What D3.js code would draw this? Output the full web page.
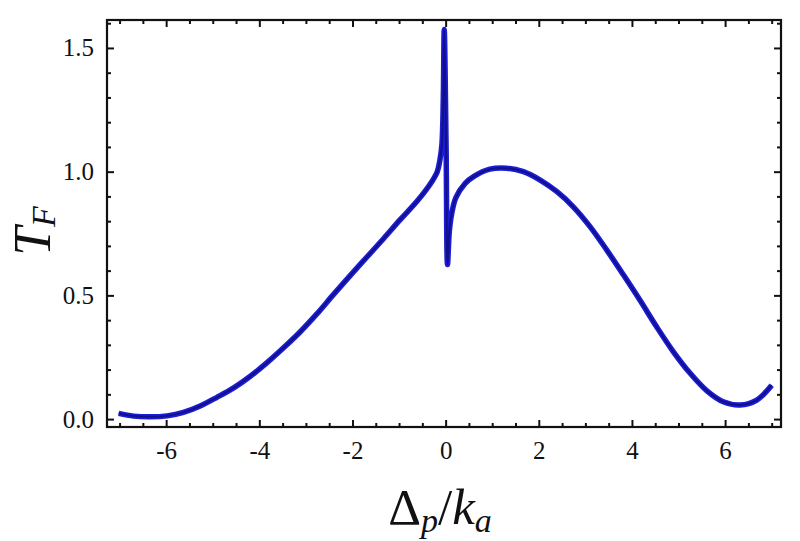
<!DOCTYPE html>
<html>
<head>
<meta charset="utf-8">
<script src="https://cdn.jsdelivr.net/npm/d3@7"></script>
<style>
  html, body { margin: 0; padding: 0; background: #fff; }
  svg { display: block; }
</style>
</head>
<body>
<svg id="chart" width="800" height="541"></svg>
<script>
// ---- data ----
const detuning = [
  -7.02, -6.70, -6.34, -5.98, -5.63, -5.27, -4.91, -4.55, -4.20, -3.84,
  -3.48, -3.12, -2.76, -2.41, -2.05, -1.69, -1.33, -0.98, -0.62, -0.33,
  -0.18, -0.12, -0.08, -0.05, -0.03, 0.01, 0.04, 0.08, 0.13, 0.22,
  0.42, 0.60, 0.95, 1.31, 1.67, 2.03, 2.39, 2.74, 3.10, 3.46,
  3.82, 4.17, 4.53, 4.89, 5.25, 5.61, 5.96, 6.32, 6.68, 7.00
];
const transmission = [
  0.023, 0.012, 0.009, 0.013, 0.027, 0.053, 0.088, 0.126, 0.172, 0.227,
  0.288, 0.353, 0.426, 0.503, 0.580, 0.655, 0.730, 0.805, 0.879, 0.950,
  1.000, 1.050, 1.110, 1.300, 1.575, 1.100, 0.625, 0.760, 0.830, 0.895,
  0.953, 0.980, 1.010, 1.014, 1.000, 0.966, 0.919, 0.858, 0.778, 0.683,
  0.582, 0.481, 0.373, 0.272, 0.185, 0.114, 0.070, 0.057, 0.077, 0.137
];
const xMajorTicks = [-6, -4, -2, 0, 2, 4, 6];
const yMajorTicks = [0.0, 0.5, 1.0, 1.5];
const xDomain = [-7.27, 7.2];
const yDomain = [-0.032, 1.613];

// ---- layout ----
const serif = '"Liberation Serif", "DejaVu Serif", serif';
const svg = d3.select("#chart");
const margin = { left: 107, top: 20, right: 19, bottom: 114 };
const W = 800 - margin.left - margin.right;
const H = 541 - margin.top - margin.bottom;
const g = svg.append("g").attr("transform", `translate(${margin.left},${margin.top})`);

const x = d3.scaleLinear().domain(xDomain).range([0, W]);
const y = d3.scaleLinear().domain(yDomain).range([H, 0]);

const xMinor = d3.range(-7, 7.01, 0.5).filter(v => !xMajorTicks.includes(v));
const yMinor = d3.range(0, 1.61, 0.1).map(v => +v.toFixed(1)).filter(v => !yMajorTicks.includes(v));

function styleAxis(sel) {
  sel.attr("font-family", serif).attr("font-size", 25);
  sel.select(".domain").remove();
  sel.selectAll(".tick line").attr("stroke", "#111").attr("stroke-width", 2);
  sel.selectAll(".tick text").attr("fill", "#111").attr("font-family", serif).attr("font-size", 25);
}

// major + minor ticks, inward, on all four sides
g.append("g").attr("transform", `translate(0,${H})`)
  .call(d3.axisBottom(x).tickValues(xMajorTicks).tickSize(-7).tickPadding(14).tickFormat(d => String(d)))
  .call(styleAxis);
g.append("g").attr("transform", `translate(0,${H})`)
  .call(d3.axisBottom(x).tickValues(xMinor).tickSize(-4).tickFormat(""))
  .call(styleAxis);
g.append("g")
  .call(d3.axisTop(x).tickValues(xMajorTicks).tickSize(-7).tickFormat(""))
  .call(styleAxis);
g.append("g")
  .call(d3.axisTop(x).tickValues(xMinor).tickSize(-4).tickFormat(""))
  .call(styleAxis);
g.append("g")
  .call(d3.axisLeft(y).tickValues(yMajorTicks).tickSize(-7).tickPadding(13).tickFormat(d3.format(".1f")))
  .call(styleAxis);
g.append("g")
  .call(d3.axisLeft(y).tickValues(yMinor).tickSize(-4).tickFormat(""))
  .call(styleAxis);
g.append("g").attr("transform", `translate(${W},0)`)
  .call(d3.axisRight(y).tickValues(yMajorTicks).tickSize(-7).tickFormat(""))
  .call(styleAxis);
g.append("g").attr("transform", `translate(${W},0)`)
  .call(d3.axisRight(y).tickValues(yMinor).tickSize(-4).tickFormat(""))
  .call(styleAxis);

// curve
const pts = detuning.map((d, i) => [d, transmission[i]]);
const line = d3.line().x(d => x(d[0])).y(d => y(d[1])).curve(d3.curveCatmullRom.alpha(0.5));
g.append("path").datum(pts).attr("d", line)
  .attr("fill", "none").attr("stroke", "#1c1cd4").attr("stroke-width", 5.5)
  .attr("stroke-linejoin", "round").attr("stroke-linecap", "butt");
g.append("path").datum(pts).attr("d", line)
  .attr("fill", "none").attr("stroke", "#10108a").attr("stroke-width", 2)
  .attr("stroke-linejoin", "round").attr("stroke-linecap", "butt");

// frame
g.append("rect").attr("x", 0).attr("y", 0).attr("width", W).attr("height", H)
  .attr("fill", "none").attr("stroke", "#111").attr("stroke-width", 2.2);

// axis titles
const xt = svg.append("text")
  .attr("x", 440).attr("y", 524).attr("text-anchor", "middle")
  .attr("font-family", serif).attr("font-size", 51).attr("fill", "#111");
xt.append("tspan").text("Δ");
xt.append("tspan").attr("font-style", "italic").attr("font-size", 34).attr("dy", 8).text("p");
xt.append("tspan").attr("dy", -8).text("/");
xt.append("tspan").attr("font-style", "italic").text("k");
xt.append("tspan").attr("font-style", "italic").attr("font-size", 34).attr("dy", 8).text("a");

const yt = svg.append("text")
  .attr("transform", "translate(50,231) rotate(-90)").attr("text-anchor", "middle")
  .attr("font-family", serif).attr("font-size", 52).attr("fill", "#111");
yt.append("tspan").attr("font-style", "italic").text("T");
yt.append("tspan").attr("font-style", "italic").attr("font-size", 34).attr("dy", 5).text("F");
</script>
</body>
</html>
